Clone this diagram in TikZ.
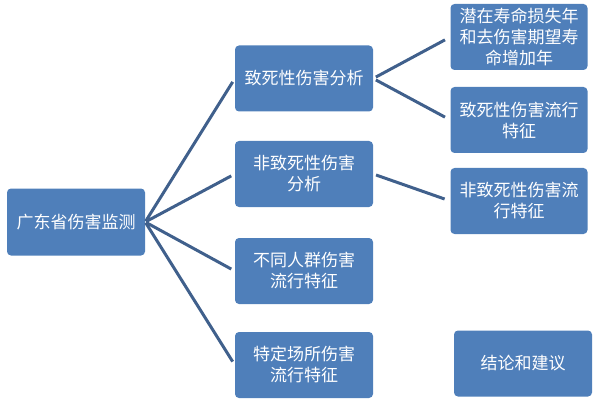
\documentclass[tikz,border=0pt]{standalone}
\usepackage{fontspec}
\setmainfont{Noto Sans CJK SC}
\usetikzlibrary{positioning,calc}
\definecolor{boxblue}{HTML}{4F7FBA}
\definecolor{linkblue}{HTML}{40608C}
\tikzset{
  topic/.style={fill=boxblue, rounded corners=4pt, minimum width=138pt,
    minimum height=66pt, inner sep=1pt, align=center, text=white,
    font=\fontsize{17}{21}\selectfont},
  link/.style={line width=3pt, color=linkblue},
}
\begin{document}
\begin{tikzpicture}[x=1pt,y=-1pt]
  \useasboundingbox (0,0) rectangle (599,406);
  % root
  \node[topic, minimum height=67pt] (root) at (76,222) {广东省伤害监测};
  % first level
  \node[topic] (fatal) at (304,78.5) {致死性伤害分析};
  \node[topic] (nonfatal) at (304,174) {非致死性伤害\\分析};
  \node[topic] (groups) at (304,271) {不同人群伤害\\流行特征};
  \node[topic] (places) at (304,365) {特定场所伤害\\流行特征};
  % second level
  \node[topic, minimum width=137pt] (yll) at (519,37) {潜在寿命损失年\\和去伤害期望寿\\命增加年};
  \node[topic, minimum width=137pt] (fatalepi) at (519,120) {致死性伤害流行\\特征};
  \node[topic, minimum width=137pt] (nonfatalepi) at (519,201) {非致死性伤害流\\行特征};
  \node[topic] (advice) at (523,363.5) {结论和建议};
  % links
  \foreach \t in {fatal,nonfatal,groups,places}
    \draw[link, shorten <=1pt, shorten >=4pt] (root.east) -- (\t.west);
  \foreach \t in {yll,fatalepi}
    \draw[link, shorten <=3pt, shorten >=6pt] (fatal.east) -- (\t.west);
  \draw[link, shorten <=3pt, shorten >=6pt] (nonfatal.east) -- (nonfatalepi.west);
\end{tikzpicture}
\end{document}
